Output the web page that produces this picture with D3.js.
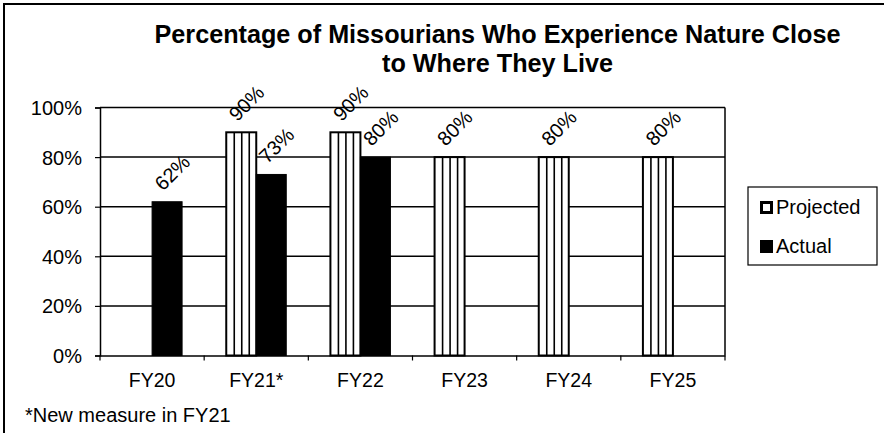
<!DOCTYPE html>
<html><head><meta charset="utf-8">
<script src="https://cdn.jsdelivr.net/npm/d3@7/dist/d3.min.js"></script>
<style>body{margin:0;background:#fff}svg{display:block}text{font-family:"Liberation Sans",Arial,sans-serif;fill:#000}</style>
</head><body><svg id="c" width="884" height="433"></svg>
<script>
const categories = ["FY20","FY21*","FY22","FY23","FY24","FY25"];
const projected = [null, 90, 90, 80, 80, 80];
const actual = [62, 73, 80, null, null, null];
const yTicks = [0, 20, 40, 60, 80, 100];
const titleLines = ["Percentage of Missourians Who Experience Nature Close", "to Where They Live"];
const seriesNames = ["Projected", "Actual"];
const footnote = "*New measure in FY21";

const svg = d3.select("#c");
const m = {l:100, r:725, t:107.5, b:355.5};
const x = d3.scaleBand().domain(categories).range([m.l, m.r]);
const y = d3.scaleLinear().domain([0,100]).range([m.b, m.t]);
const bw = 30;

// outer frame
svg.append("rect").attr("x",4).attr("y",4).attr("width",1200).attr("height",1200)
  .attr("fill","none").attr("stroke","#000").attr("stroke-width",2);

// title
svg.append("g").selectAll("text").data(titleLines).join("text")
  .attr("x",497.5).attr("y",(d,i)=>42.7+i*29).attr("text-anchor","middle")
  .attr("font-size",25.2).attr("font-weight","bold").text(d=>d);

// gridlines
svg.append("g").selectAll("line").data(yTicks.filter(d=>d>0)).join("line")
  .attr("x1",m.l).attr("x2",m.r).attr("y1",d=>y(d)).attr("y2",d=>y(d))
  .attr("stroke","#000").attr("stroke-width",1.5);
svg.append("line").attr("x1",m.r).attr("x2",m.r).attr("y1",m.t).attr("y2",m.b).attr("stroke","#000").attr("stroke-width",1.5);

// axes
const ya = svg.append("g").attr("transform",`translate(${m.l},0)`)
  .call(d3.axisLeft(y).tickValues(yTicks).tickFormat(d=>d+"%").tickSize(5));
ya.select(".domain").attr("stroke","#000").attr("stroke-width",1.5);
ya.selectAll(".tick line").attr("stroke","#000").attr("stroke-width",1.2);
ya.selectAll("text").attr("font-size",20).attr("font-family","Liberation Sans, Arial").attr("fill","#000")
  .attr("x",-18).attr("dy","0.35em");

const xa = svg.append("g").attr("transform",`translate(0,${m.b})`)
  .call(d3.axisBottom(x).tickSize(0));
xa.select(".domain").attr("stroke","#000").attr("stroke-width",1.5);
xa.selectAll("text").attr("font-size",19.5).attr("font-family","Liberation Sans, Arial").attr("fill","#000")
  .attr("y",31.5).attr("dy",0);
const bounds = categories.map(c=>x(c)).concat([m.r]);
svg.append("g").selectAll("line").data(bounds).join("line")
  .attr("x1",d=>d).attr("x2",d=>d).attr("y1",m.b).attr("y2",m.b+5)
  .attr("stroke","#000").attr("stroke-width",1.2);

const cx = c => x(c) + x.bandwidth()/2;
// projected bars
const pd = categories.map((c,i)=>({c, v:projected[i]})).filter(d=>d.v!=null);
const pg = svg.append("g").selectAll("g").data(pd).join("g");
pg.append("rect").attr("x",d=>cx(d.c)-bw).attr("y",d=>y(d.v)).attr("width",bw).attr("height",d=>m.b-y(d.v))
  .attr("fill","#fff").attr("stroke","#000").attr("stroke-width",2);
[1,2,3].forEach(k=>{
  pg.append("line").attr("x1",d=>cx(d.c)-bw+bw*k/4+0.5).attr("x2",d=>cx(d.c)-bw+bw*k/4+0.5)
    .attr("y1",d=>y(d.v)).attr("y2",m.b).attr("stroke","#000").attr("stroke-width",1.6);
});
// actual bars
const ad = categories.map((c,i)=>({c, v:actual[i]})).filter(d=>d.v!=null);
svg.append("g").selectAll("rect").data(ad).join("rect")
  .attr("x",d=>cx(d.c)).attr("y",d=>y(d.v)).attr("width",bw).attr("height",d=>m.b-y(d.v))
  .attr("fill","#000").attr("stroke","#000").attr("stroke-width",1);

// labels
function lab(data, off){
  svg.append("g").selectAll("text").data(data).join("text")
    .attr("transform",d=>`translate(${cx(d.c)+off-bw/2-4},${y(d.v)-10}) rotate(-45)`)
    .attr("font-size",20).text(d=>d.v+"%");
}
lab(pd, 0); lab(ad, bw);

// legend
const lg = svg.append("g");
lg.append("rect").attr("x",748).attr("y",187).attr("width",129).attr("height",78)
  .attr("fill","#fff").attr("stroke","#000").attr("stroke-width",1.2);
seriesNames.forEach((n,i)=>{
  const yy = 201 + i*39;
  if(i===0){
    lg.append("rect").attr("x",761.5).attr("y",yy+1.5).attr("width",10).attr("height",10).attr("fill","#fff").attr("stroke","#000").attr("stroke-width",3);
  } else {
    lg.append("rect").attr("x",760).attr("y",yy).attr("width",13).attr("height",13).attr("fill","#000");
  }
  lg.append("text").attr("x",776).attr("y",yy+12.5).attr("font-size",20).text(n);
});

// footnote
svg.append("text").attr("x",25).attr("y",422).attr("font-size",20).text(footnote);
</script></body></html>
